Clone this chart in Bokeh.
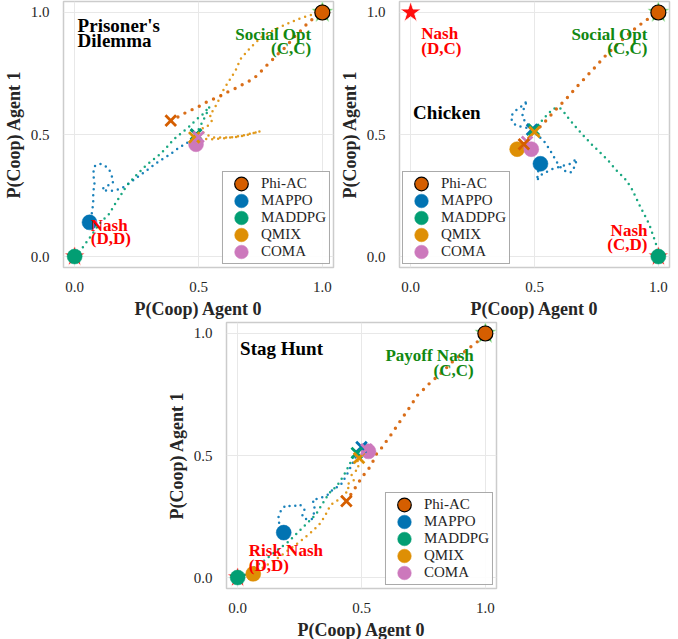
from bokeh.plotting import figure
from bokeh.models import Range1d, FixedTicker, Label, Legend, LegendItem, Spacer, PrintfTickFormatter
from bokeh.layouts import column, row
from bokeh.embed import file_html
from bokeh.resources import INLINE

FONT = "Liberation Serif"
ALGOS = ["Phi-AC", "MAPPO", "MADDPG", "QMIX", "COMA"]
COLORS = ["#d55e00", "#0173b2", "#029e73", "#de8f05", "#cc78bc"]
TICKS = [0.0, 0.5, 1.0]

# ---------------- Prisoner's Dilemma ----------------
PD_PHIAC_X = [0.388, 0.424, 0.457, 0.49, 0.523, 0.557, 0.59, 0.623, 0.656, 0.689, 0.722, 0.749, 0.773, 0.80, 0.826, 0.855, 0.882, 0.915, 0.948, 1.0]
PD_PHIAC_Y = [0.557, 0.575, 0.595, 0.608, 0.628, 0.644, 0.659, 0.677, 0.692, 0.711, 0.728, 0.755, 0.781, 0.808, 0.835, 0.861, 0.895, 0.928, 0.964, 1.0]
PD_MAPPO_X = [0.49, 0.46, 0.42, 0.38, 0.34, 0.30, 0.26, 0.22, 0.19, 0.16, 0.13, 0.11, 0.13, 0.155, 0.15, 0.14, 0.12, 0.10, 0.08, 0.075, 0.08, 0.075, 0.075, 0.07, 0.06]
PD_MAPPO_Y = [0.50, 0.47, 0.445, 0.415, 0.39, 0.36, 0.33, 0.30, 0.28, 0.27, 0.27, 0.275, 0.29, 0.30, 0.33, 0.355, 0.375, 0.38, 0.37, 0.34, 0.30, 0.26, 0.22, 0.18, 0.14]
PD_MADDPG_X = [0.49, 0.51, 0.53, 0.545, 0.52, 0.49, 0.46, 0.43, 0.40, 0.37, 0.34, 0.29, 0.25, 0.21, 0.185, 0.16, 0.14, 0.10, 0.07, 0.045, 0.02, 0.0]
PD_MADDPG_Y = [0.50, 0.54, 0.58, 0.615, 0.585, 0.56, 0.53, 0.505, 0.48, 0.445, 0.415, 0.375, 0.335, 0.29, 0.25, 0.21, 0.175, 0.135, 0.09, 0.055, 0.02, 0.0]
PD_QMIX_X = [0.483, 0.51, 0.537, 0.563, 0.59, 0.623, 0.656, 0.69, 0.72, 0.75, 0.72, 0.68, 0.64, 0.60, 0.56, 0.53, 0.51, 0.52, 0.537, 0.557, 0.545, 0.56, 0.576, 0.596, 0.616, 0.649, 0.669, 0.709, 0.756, 0.829, 0.908, 0.988, 1.0]
PD_QMIX_Y = [0.488, 0.485, 0.481, 0.481, 0.483, 0.487, 0.49, 0.497, 0.505, 0.513, 0.506, 0.496, 0.489, 0.487, 0.488, 0.50, 0.515, 0.53, 0.535, 0.56, 0.58, 0.60, 0.628, 0.675, 0.708, 0.761, 0.808, 0.855, 0.901, 0.941, 0.975, 1.0, 1.0]
PD_COMA_X = [0.50, 0.497, 0.493, 0.49]
PD_COMA_Y = [0.49, 0.48, 0.47, 0.46]

# ---------------- Chicken ----------------
CH_PHIAC_X = [0.457, 0.48, 0.504, 0.535, 0.561, 0.584, 0.61, 0.635, 0.66, 0.684, 0.733, 0.784, 0.84, 0.895, 0.948, 1.0]
CH_PHIAC_Y = [0.46, 0.49, 0.514, 0.544, 0.574, 0.60, 0.627, 0.654, 0.683, 0.71, 0.763, 0.82, 0.875, 0.925, 0.967, 1.0]
CH_MAPPO_X = [0.49, 0.46, 0.43, 0.41, 0.405, 0.42, 0.44, 0.46, 0.47, 0.455, 0.45, 0.47, 0.50, 0.52, 0.54, 0.56, 0.58, 0.60, 0.63, 0.65, 0.665, 0.67, 0.645, 0.61, 0.575, 0.545, 0.52, 0.51, 0.515, 0.524]
CH_MAPPO_Y = [0.52, 0.53, 0.535, 0.55, 0.575, 0.595, 0.61, 0.625, 0.64, 0.60, 0.57, 0.545, 0.52, 0.49, 0.47, 0.44, 0.405, 0.37, 0.345, 0.345, 0.375, 0.40, 0.38, 0.37, 0.36, 0.345, 0.33, 0.31, 0.35, 0.38]
CH_MADDPG_X = [0.497, 0.52, 0.55, 0.577, 0.604, 0.62, 0.637, 0.664, 0.697, 0.73, 0.764, 0.797, 0.83, 0.864, 0.89, 0.929, 0.963, 0.99, 1.0]
CH_MADDPG_Y = [0.52, 0.545, 0.58, 0.607, 0.607, 0.59, 0.567, 0.534, 0.496, 0.46, 0.427, 0.394, 0.354, 0.32, 0.283, 0.20, 0.133, 0.053, 0.0]
CH_QMIX_X = [0.50, 0.48, 0.46, 0.44, 0.42, 0.435, 0.43]
CH_QMIX_Y = [0.51, 0.49, 0.47, 0.45, 0.43, 0.445, 0.44]
CH_COMA_X = [0.47, 0.48, 0.487]
CH_COMA_Y = [0.47, 0.455, 0.44]

# ---------------- Stag Hunt ----------------
SH_PHIAC_X = [0.439, 0.46, 0.481, 0.501, 0.528, 0.545, 0.561, 0.585, 0.604, 0.625, 0.645, 0.667, 0.687, 0.707, 0.727, 0.754, 0.78, 0.807, 0.834, 0.867, 0.907, 0.947, 0.973, 1.0]
SH_PHIAC_Y = [0.313, 0.345, 0.377, 0.41, 0.444, 0.473, 0.507, 0.536, 0.564, 0.593, 0.624, 0.657, 0.686, 0.717, 0.748, 0.774, 0.801, 0.824, 0.85, 0.884, 0.918, 0.95, 0.97, 1.0]
SH_MAPPO_X = [0.50, 0.48, 0.46, 0.44, 0.415, 0.388, 0.362, 0.328, 0.302, 0.31, 0.31, 0.30, 0.28, 0.26, 0.27, 0.25, 0.222, 0.195, 0.176, 0.165, 0.168, 0.186]
SH_MAPPO_Y = [0.535, 0.50, 0.46, 0.42, 0.377, 0.364, 0.337, 0.324, 0.317, 0.30, 0.27, 0.24, 0.237, 0.25, 0.28, 0.30, 0.29, 0.297, 0.277, 0.25, 0.217, 0.184]
SH_MADDPG_X = [0.481, 0.468, 0.45, 0.428, 0.402, 0.368, 0.335, 0.315, 0.288, 0.262, 0.235, 0.202, 0.149, 0.109, 0.069, 0.043, 0.0]
SH_MADDPG_Y = [0.51, 0.497, 0.46, 0.417, 0.377, 0.344, 0.29, 0.257, 0.23, 0.204, 0.177, 0.144, 0.104, 0.07, 0.044, 0.017, 0.0]
SH_QMIX_X = [0.49, 0.501, 0.48, 0.49, 0.46, 0.47, 0.44, 0.45, 0.415, 0.375, 0.355, 0.335, 0.302, 0.255, 0.202, 0.149, 0.096, 0.063]
SH_QMIX_Y = [0.49, 0.504, 0.47, 0.45, 0.42, 0.40, 0.38, 0.36, 0.324, 0.297, 0.257, 0.224, 0.19, 0.15, 0.11, 0.07, 0.037, 0.015]
SH_COMA_X = [0.52, 0.525, 0.528]
SH_COMA_Y = [0.525, 0.52, 0.517]

PD_TRAJ = [(PD_PHIAC_X, PD_PHIAC_Y), (PD_MAPPO_X, PD_MAPPO_Y), (PD_MADDPG_X, PD_MADDPG_Y), (PD_QMIX_X, PD_QMIX_Y), (PD_COMA_X, PD_COMA_Y)]
CH_TRAJ = [(CH_PHIAC_X, CH_PHIAC_Y), (CH_MAPPO_X, CH_MAPPO_Y), (CH_MADDPG_X, CH_MADDPG_Y), (CH_QMIX_X, CH_QMIX_Y), (CH_COMA_X, CH_COMA_Y)]
SH_TRAJ = [(SH_PHIAC_X, SH_PHIAC_Y), (SH_MAPPO_X, SH_MAPPO_Y), (SH_MADDPG_X, SH_MADDPG_Y), (SH_QMIX_X, SH_QMIX_Y), (SH_COMA_X, SH_COMA_Y)]

PD_NASH = [(0.0, 0.0)]
PD_SOCIAL = [(1.0, 1.0)]
CH_NASH = [(0.0, 1.0), (1.0, 0.0)]
CH_SOCIAL = [(1.0, 1.0)]
SH_NASH = [(0.0, 0.0)]
SH_SOCIAL = [(1.0, 1.0)]

RED = "#ff0000"
GREEN = "#118811"

PD_TEXT = [("Prisoner's", 0.012, 0.945, "black", "left", "19px"),
           ("Dilemma", 0.012, 0.884, "black", "left", "19px"),
           ("Nash", 0.065, 0.128, RED, "left", "17px"),
           ("(D,D)", 0.065, 0.072, RED, "left", "17px"),
           ("Social Opt", 0.955, 0.911, GREEN, "right", "17px"),
           ("(C,C)", 0.955, 0.852, GREEN, "right", "17px")]
CH_TEXT = [("Chicken", 0.01, 0.591, "black", "left", "19px"),
           ("Nash", 0.043, 0.913, RED, "left", "17px"),
           ("(D,C)", 0.043, 0.853, RED, "left", "17px"),
           ("Social Opt", 0.956, 0.91, GREEN, "right", "17px"),
           ("(C,C)", 0.956, 0.851, GREEN, "right", "17px"),
           ("Nash", 0.956, 0.107, RED, "right", "17px"),
           ("(C,D)", 0.956, 0.051, RED, "right", "17px")]
SH_TEXT = [("Stag Hunt", 0.01, 0.94, "black", "left", "19px"),
           ("Payoff Nash", 0.953, 0.91, GREEN, "right", "17px"),
           ("(C,C)", 0.953, 0.848, GREEN, "right", "17px"),
           ("Risk Nash", 0.045, 0.11, RED, "left", "17px"),
           ("(D,D)", 0.045, 0.048, RED, "left", "17px")]

FRAME_W = 270
FRAME_H = 266


def make_fig(traj, nash, social, texts, legend_loc):
    p = figure(frame_width=FRAME_W, frame_height=FRAME_H, output_backend="svg", toolbar_location=None,
               x_range=Range1d(-0.045, 1.045), y_range=Range1d(-0.045, 1.045),
               min_border_left=54, min_border_right=3, min_border_top=1, min_border_bottom=40)
    p.background_fill_color = "white"
    p.outline_line_color = "#cccccc"
    p.outline_line_width = 1.5
    for ax in (p.xaxis, p.yaxis):
        ax.ticker = FixedTicker(ticks=TICKS)
        ax.formatter = PrintfTickFormatter(format="%.1f")
        ax.axis_line_color = None
        ax.major_tick_line_color = None
        ax.minor_tick_line_color = None
        ax.major_label_text_font = FONT
        ax.major_label_text_font_size = "15px"
        ax.major_label_text_color = "#262626"
        ax.axis_label_text_font = FONT
        ax.axis_label_text_font_size = "18px"
        ax.axis_label_text_font_style = "bold"
        ax.axis_label_text_color = "#262626"
        ax.major_label_standoff = 8
        ax.axis_label_standoff = 4
    p.xaxis.axis_label = "P(Coop) Agent 0"
    p.yaxis.axis_label = "P(Coop) Agent 1"
    p.grid.ticker = FixedTicker(ticks=TICKS)
    p.grid.grid_line_color = "#e8e8e8"
    p.grid.grid_line_width = 1

    # equilibrium stars
    p.scatter([q[0] for q in nash], [q[1] for q in nash], marker="star", size=22,
              fill_color=RED, line_color="white", line_width=0.8, fill_alpha=0.95)
    p.scatter([q[0] for q in social], [q[1] for q in social], marker="star", size=22,
              fill_color="#1a9a1a", line_color="#bfeebf", line_width=0.8, fill_alpha=0.9)

    order = [1, 2, 3, 4, 0]  # Phi-AC on top
    for i in order:
        xs, ys = traj[i]
        w = 3.4 if i == 0 else 2.5
        dash = "0 8" if i == 0 else "0 6"
        p.line(xs, ys, line_color=COLORS[i], line_width=w, line_dash=dash, line_cap="round", line_alpha=0.9)
    end_r = {}
    for i in order:
        xs, ys = traj[i]
        end_r[i] = p.ellipse([xs[-1]], [ys[-1]], width=15, height=15, width_units="screen",
                             height_units="screen", fill_color=COLORS[i],
                             line_color="black" if i == 0 else COLORS[i], line_width=1.2 if i == 0 else 0.5)
    for i in order:
        xs, ys = traj[i]
        p.scatter([xs[0]], [ys[0]], marker="x", size=15, line_color=COLORS[i], line_width=2.8)

    for (t, x, y, c, al, sz) in texts:
        p.add_layout(Label(x=x, y=y, text=t, text_font=FONT, text_font_style="bold", text_font_size=sz,
                           text_color=c, text_align=al, text_baseline="alphabetic"))

    legend = Legend(items=[LegendItem(label=ALGOS[i], renderers=[end_r[i]]) for i in range(5)],
                    location=legend_loc, glyph_width=30, glyph_height=17, spacing=0, padding=3,
                    label_standoff=5, label_height=17, label_text_font=FONT, label_text_font_size="15px",
                    label_text_color="#262626", border_line_color="#555555", border_line_width=1,
                    background_fill_alpha=0.9, margin=3)
    p.add_layout(legend)
    return p


p1 = make_fig(PD_TRAJ, PD_NASH, PD_SOCIAL, PD_TEXT, "bottom_right")
p2 = make_fig(CH_TRAJ, CH_NASH, CH_SOCIAL, CH_TEXT, "bottom_left")
p3 = make_fig(SH_TRAJ, SH_NASH, SH_SOCIAL, SH_TEXT, "bottom_right")

layout = column(row(p1, p2), row(Spacer(width=163, height=10), p3))
open("out.html", "w").write(file_html(layout, INLINE))
